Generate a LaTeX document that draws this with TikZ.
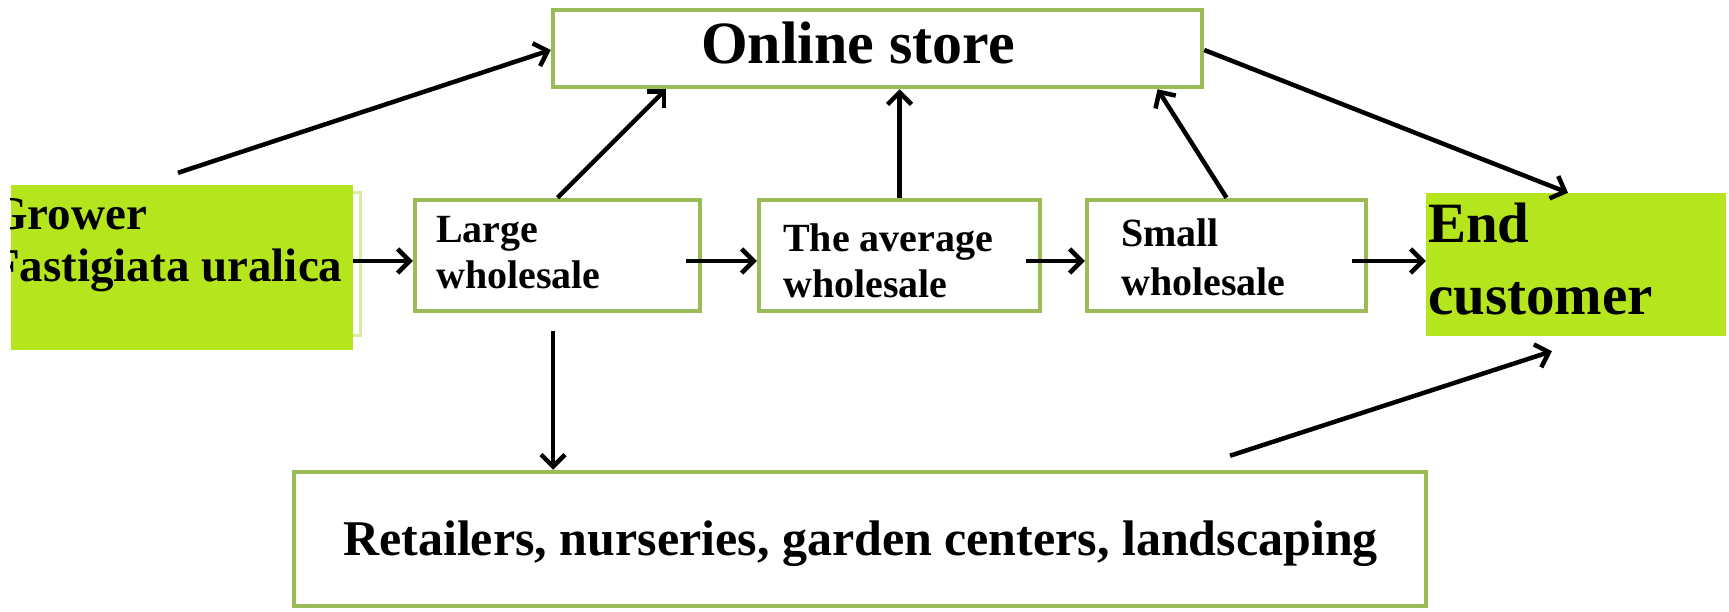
\documentclass[tikz,border=0pt]{standalone}
\usepackage{fontspec}
\setmainfont{Liberation Serif}
\usetikzlibrary{arrows.meta}
\definecolor{olive}{HTML}{9BBB59}
\definecolor{lime}{HTML}{B5E61D}
\definecolor{palelime}{HTML}{D3EFA0}
\tikzset{
  box/.style={draw=olive, line width=4.5pt, fill=white, rectangle, inner sep=0pt},
  greenbox/.style={fill=lime, rectangle, inner sep=0pt},
  lbl/.style={anchor=base west, inner sep=0pt, align=left, font=\bfseries},
  arr/.style={line width=4.5pt, -{Straight Barb[length=12pt,width=24pt]}}
}
\begin{document}
\begin{tikzpicture}[x=1pt,y=-1pt]
\useasboundingbox (0,0) rectangle (1729,612);
% grower shadow outline
\draw[palelime, line width=3pt] (20,193) rectangle (360,335);
% boxes
\node[greenbox, minimum width=342pt, minimum height=165pt] (grower) at (182,267.5) {};
\node[greenbox, minimum width=300pt, minimum height=143pt] (end) at (1576,264.5) {};
\node[box, minimum width=649pt, minimum height=77pt] (online) at (877.5,48.5) {};
\node[box, minimum width=285pt, minimum height=111pt] (large) at (557.5,255.5) {};
\node[box, minimum width=281pt, minimum height=111pt] (avg) at (899.5,255.5) {};
\node[box, minimum width=279pt, minimum height=111pt] (small) at (1226.5,255.5) {};
\node[box, minimum width=1132pt, minimum height=134pt] (retail) at (860,539) {};
% labels (anchor = baseline of last line)
\node[lbl, font=\bfseries\fontsize{60}{66}\selectfont] (onlineT) at (701,64) {Online store};
\begin{scope}
\clip (grower.north west) rectangle (grower.south east);
\node[lbl, font=\bfseries\fontsize{47}{52}\selectfont] (growerT) at (-9,282) {Grower\\Fastigiata uralica};
\end{scope}
\node[lbl, font=\bfseries\fontsize{40}{46}\selectfont] (largeT) at (436,288) {Large\\wholesale};
\node[lbl, font=\bfseries\fontsize{40}{46}\selectfont] (avgT) at (783,298) {The average\\wholesale};
\node[lbl, font=\bfseries\fontsize{40}{48}\selectfont] (smallT) at (1121,295) {Small\\wholesale};
\node[lbl, font=\bfseries\fontsize{57}{71}\selectfont] (endT) at (1428,314) {End\\customer};
\node[lbl, font=\bfseries\fontsize{50}{56}\selectfont] (retailT) at (343,555) {Retailers, nurseries, garden centers, landscaping};
% connectors
\coordinate (gstart) at ([xshift=-4pt,yshift=12pt]grower.north);
\coordinate (rstart) at ([xshift=370pt,yshift=14pt]retail.north);
\draw[arr] (gstart) -- ([yshift=-1.5pt]online.west);
\draw[arr] (large.north) -- ([xshift=-211.5pt]online.south);
\draw[arr] (avg.north) -- (avg.north |- online.south);
\draw[arr] (small.north) -- ([xshift=280pt]online.south);
\draw[arr] ([yshift=-1.5pt]online.east) -- ([xshift=-8pt]end.north);
\draw[arr] ([yshift=6.5pt]grower.east) -- ([yshift=-5.5pt]large.west);
\draw[arr] ([xshift=-16pt,yshift=-5.5pt]large.east) -- ([yshift=-5.5pt]avg.west);
\draw[arr] ([xshift=-16pt,yshift=-5.5pt]avg.east) -- ([yshift=-5.5pt]small.west);
\draw[arr] ([xshift=-16pt,yshift=-5.5pt]small.east) -- ([yshift=3.5pt]end.west);
\draw[arr] ([xshift=-4.5pt,yshift=-18pt]large.south) -- ([xshift=-307pt]retail.north);
\draw[arr] (rstart) -- ([xshift=-24pt,yshift=-15pt]end.south);
\end{tikzpicture}
\end{document}
